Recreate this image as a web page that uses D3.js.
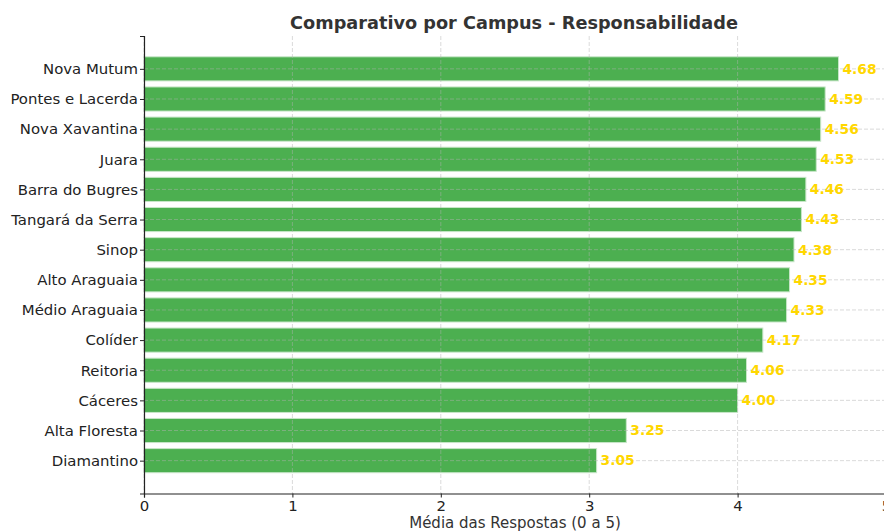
<!DOCTYPE html>
<html>
<head>
<meta charset="utf-8">
<script src="https://cdn.jsdelivr.net/npm/d3@7"></script>
<style>
  html, body { margin: 0; padding: 0; background: #fff; }
  svg { display: block; font-family: "DejaVu Sans", sans-serif; }
</style>
</head>
<body>
<svg id="chart" width="884" height="531"></svg>
<script>
// Average score per campus (scale 0 to 5)
const campuses = [
  "Nova Mutum", "Pontes e Lacerda", "Nova Xavantina", "Juara", "Barra do Bugres",
  "Tangará da Serra", "Sinop", "Alto Araguaia", "Médio Araguaia", "Colíder",
  "Reitoria", "Cáceres", "Alta Floresta", "Diamantino"
];
const scores = [4.68, 4.59, 4.56, 4.53, 4.46, 4.43, 4.38, 4.35, 4.33, 4.17, 4.06, 4.00, 3.25, 3.05];
const xTicks = [0, 1, 2, 3, 4, 5];

const chartTitle = "Comparativo por Campus - Responsabilidade";
const xLabel = "Média das Respostas (0 a 5)";

(function draw() {
  const svg = d3.select("#chart");
  const plotLeft = 144, plotRight = 886, plotTop = 36, plotBottom = 493.5;

  const x = d3.scaleLinear().domain([0, 5]).range([plotLeft, plotRight]);
  // index-based positions, first campus at the top
  const n = campuses.length;
  const yIdx = d3.scaleLinear().domain([-1.09, n - 1 + 1.09]).range([plotTop, plotBottom]);
  const barH = yIdx(0.4) - yIdx(-0.4);

  const data = campuses.map((c, i) => ({ campus: c, value: scores[i], i }));

  // bars
  svg.append("g").selectAll("rect").data(data).join("rect")
    .attr("x", x(0))
    .attr("y", d => yIdx(d.i) - barH / 2)
    .attr("width", d => x(d.value) - x(0))
    .attr("height", barH)
    .attr("fill", "#4CAF50")
    .attr("stroke", "#c8e6c9")
    .attr("stroke-width", 1);

  // grid (dashed, drawn over the bars)
  const grid = svg.append("g").attr("stroke", "#b0b0b0").attr("stroke-opacity", 0.6)
    .attr("stroke-dasharray", "4,2").attr("stroke-width", 0.8);
  grid.selectAll("line.v").data(xTicks).join("line").attr("class", "v")
    .attr("x1", d => x(d)).attr("x2", d => x(d)).attr("y1", plotTop).attr("y2", plotBottom);
  grid.selectAll("line.h").data(data).join("line").attr("class", "h")
    .attr("x1", plotLeft).attr("x2", plotRight)
    .attr("y1", d => yIdx(d.i)).attr("y2", d => yIdx(d.i));

  // value labels
  svg.append("g").selectAll("text").data(data).join("text")
    .attr("x", d => x(d.value) + 4)
    .attr("y", d => yIdx(d.i))
    .attr("dy", "0.35em")
    .attr("fill", "#FFD700")
    .attr("font-weight", "bold")
    .attr("font-size", 13.8)
    .text(d => d.value.toFixed(2));

  // x axis
  const xAxis = d3.axisBottom(x).tickValues(xTicks).tickFormat(d3.format("d")).tickSize(4).tickPadding(3);
  const gx = svg.append("g").attr("transform", `translate(0,${plotBottom})`).call(xAxis);
  gx.select(".domain").attr("stroke", "#222").attr("stroke-width", 1.2);
  gx.selectAll(".tick line").attr("stroke", "#222");
  gx.selectAll(".tick text").attr("font-size", 14.9).attr("fill", "#222").attr("font-family", "DejaVu Sans");

  // y axis
  const yAxis = d3.axisLeft(yIdx).tickValues(d3.range(n)).tickFormat(i => campuses[i]).tickSize(4).tickPadding(2);
  const gy = svg.append("g").attr("transform", `translate(${plotLeft},0)`).call(yAxis);
  gy.select(".domain").attr("stroke", "#222").attr("stroke-width", 1.2);
  gy.selectAll(".tick line").attr("stroke", "#222");
  gy.selectAll(".tick text").attr("font-size", 14.9).attr("fill", "#222").attr("font-family", "DejaVu Sans");

  // title and axis label
  svg.append("text").attr("x", (plotLeft + plotRight) / 2 - 1).attr("y", 29)
    .attr("text-anchor", "middle").attr("font-size", 17.7).attr("font-weight", "bold")
    .attr("fill", "#333").text(chartTitle);
  svg.append("text").attr("x", (plotLeft + plotRight) / 2).attr("y", 528)
    .attr("text-anchor", "middle").attr("font-size", 15).attr("fill", "#333").text(xLabel);
})();
</script>
</body>
</html>
